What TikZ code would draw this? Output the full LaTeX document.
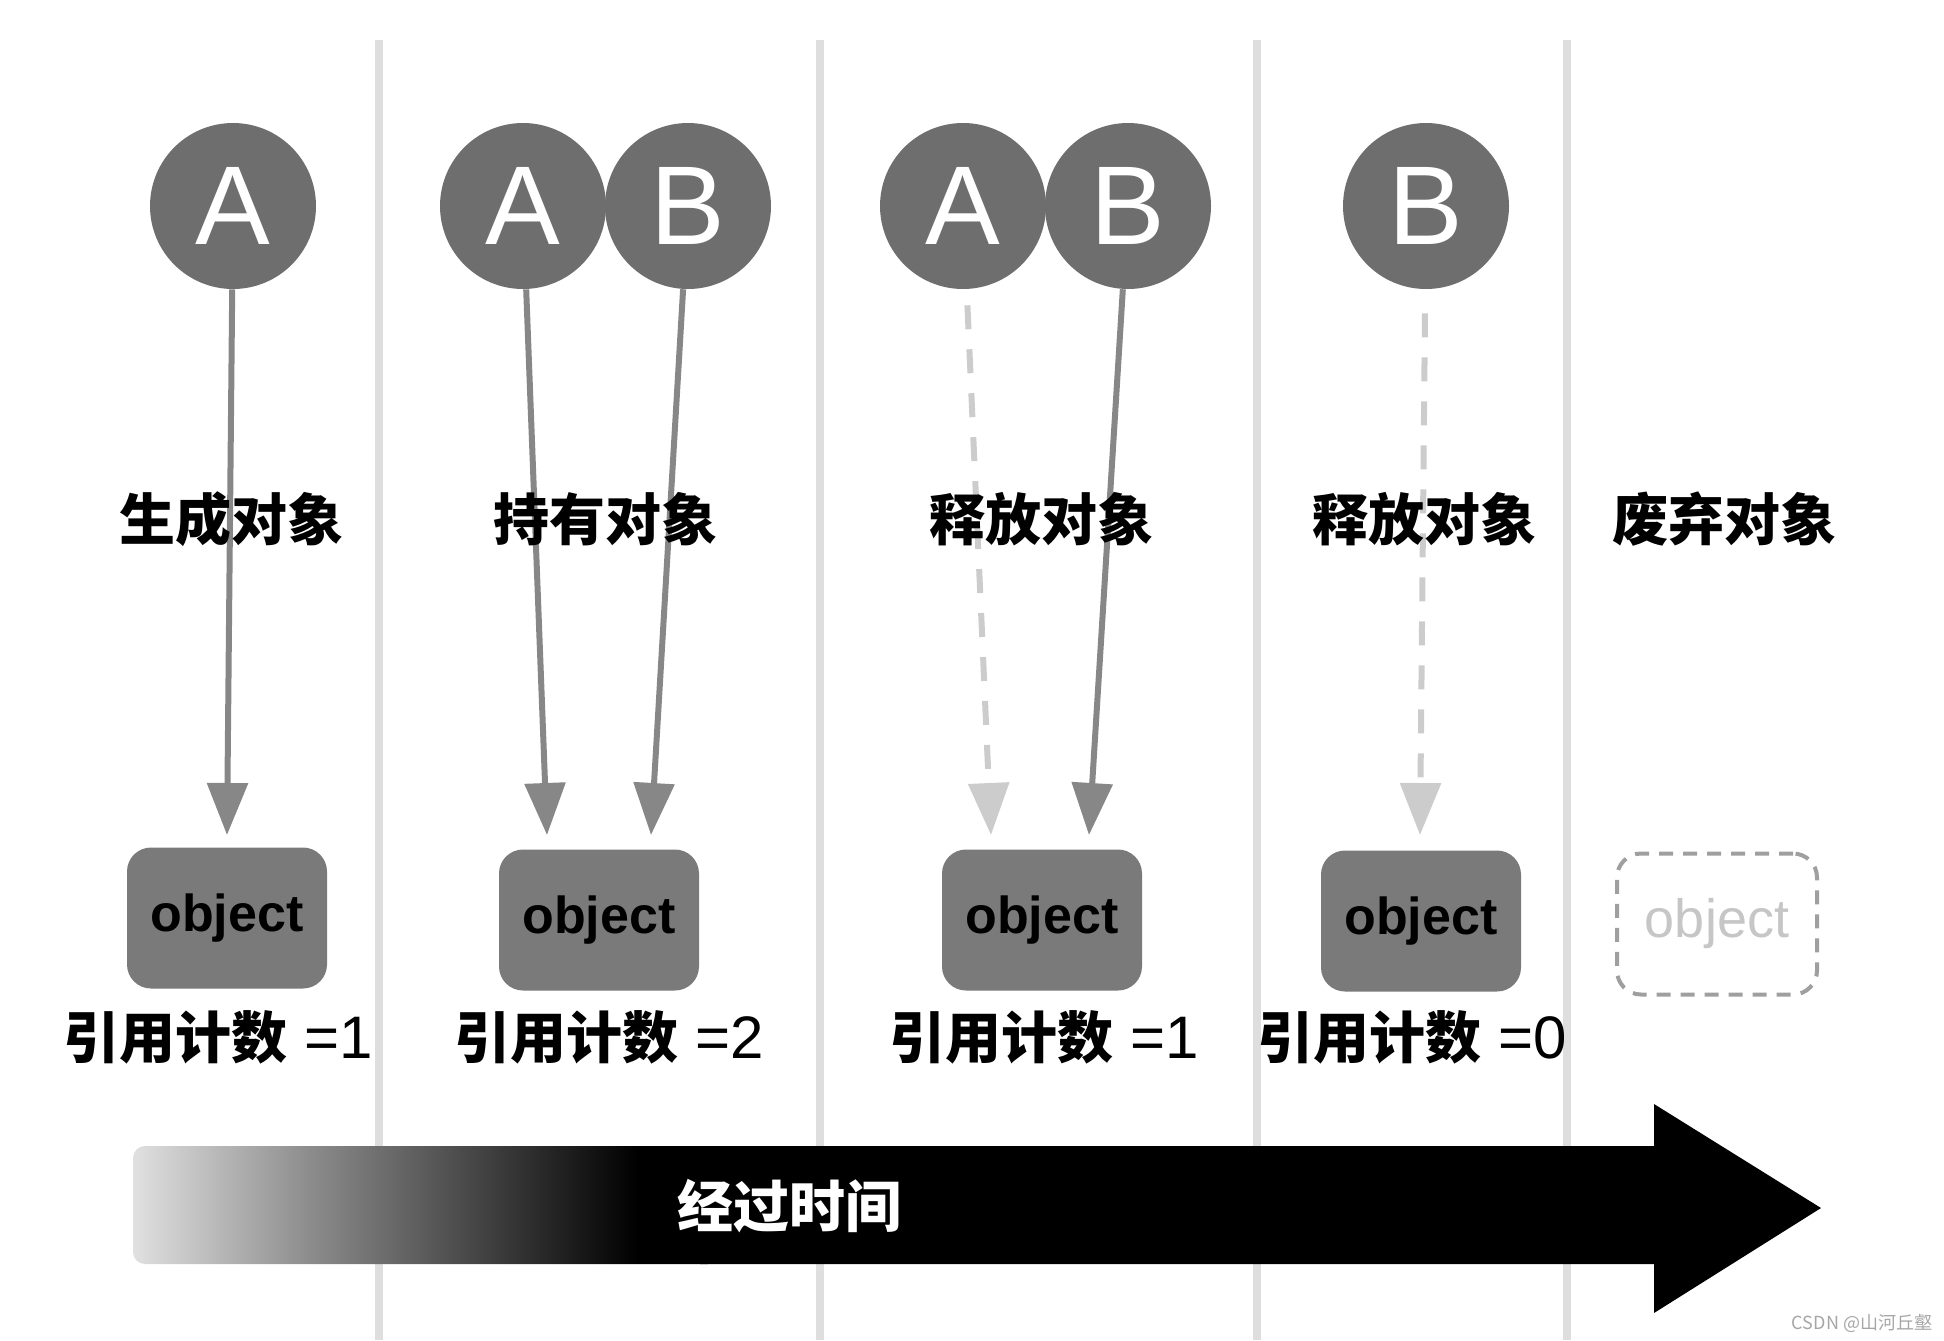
\documentclass[tikz,border=0pt]{standalone}
\usepackage{fontspec}
\setmainfont{Liberation Sans}
\newfontfamily\cjk{Noto Sans CJK SC}
\usetikzlibrary{arrows.meta}
\definecolor{ballgray}{rgb}{0.43, 0.43, 0.43}
\definecolor{boxgray}{rgb}{0.48, 0.48, 0.48}
\definecolor{linkgray}{rgb}{0.53, 0.53, 0.53}
\definecolor{ghostgray}{rgb}{0.80, 0.80, 0.80}
\definecolor{rulegray}{rgb}{0.87, 0.87, 0.87}
\pgfdeclarehorizontalshading{timefade}{100bp}{%
  color(0bp)=(black!12); color(25bp)=(black!12); color(40bp)=(black!45);
  color(68bp)=(black); color(100bp)=(black)}
\tikzset{
  ball/.style={circle, fill=ballgray, minimum size=83pt, inner sep=0pt,
    text=white, font=\fontsize{56}{56}\selectfont},
  objbox/.style={rounded corners=12pt, fill=boxgray, minimum width=100pt,
    minimum height=70.5pt, font=\bfseries\fontsize{26}{26}\selectfont},
  ghostbox/.style={objbox, fill=none, draw=gray!75, line width=2pt,
    dash pattern=on 7pt off 5pt, text=gray!45, font=\fontsize{27}{27}\selectfont},
  caption/.style={font=\cjk\bfseries\fontsize{28}{28}\selectfont},
  link/.style={draw=linkgray, line width=3pt, -{Triangle[length=26pt,width=20pt]}},
  oldlink/.style={link, draw=ghostgray, dash pattern=on 12pt off 10pt},
}

\begin{document}
\begin{tikzpicture}[x=0.5pt,y=-0.5pt]
  \useasboundingbox (0,0) rectangle (1944,1340);

  % column rules
  \foreach \x in {379,820,1257,1567}
  {
    \draw [rulegray, line width=4pt] (\x,40) -- (\x,1340);
  }

  % time arrow
  \shade [shading=timefade, rounded corners=6pt] (133,1146) rectangle (720,1264);
  \fill [black] (700,1146) -- (1654,1146) -- (1654,1104) -- (1821,1208)
    -- (1654,1313) -- (1654,1264) -- (700,1264) -- cycle;
  \node [caption, text=white] (time) at (789,1206) {经过时间};

  % references
  \node [ball] (a1) at (233,206) {A};
  \node [ball] (a2) at (523,206) {A};
  \node [ball] (b2) at (688,206) {B};
  \node [ball] (a3) at (963,206) {A};
  \node [ball] (b3) at (1128,206) {B};
  \node [ball] (b4) at (1426,206) {B};

  % objects
  \node [objbox] (o1) at (227,918) {object};
  \node [objbox] (o2) at (599,920) {object};
  \node [objbox] (o3) at (1042,920) {object};
  \node [objbox] (o4) at (1421,921) {object};
  \node [ghostbox] (o5) at (1717,924) {object};

  \coordinate (t1) at (227,835);
  \coordinate (t2a) at (547,835);
  \coordinate (t2b) at (651,835);
  \coordinate (t3a) at (991,835);
  \coordinate (t3b) at (1089,835);
  \coordinate (t4) at (1420,835);

  \draw [link] (a1) -- (t1);
  \draw [link] (a2) -- (t2a);
  \draw [link] (b2) -- (t2b);
  \draw [oldlink, shorten <=8pt] (a3) -- (t3a);
  \draw [link] (b3) -- (t3b);
  \draw [oldlink, shorten <=12pt] (b4) -- (t4);

  \foreach \x/\name/\txt in {231/c1/生成对象, 605/c2/持有对象, 1041/c3/释放对象, 1424/c4/释放对象, 1724/c5/废弃对象}
  {
    \node [caption] (\name) at (\x,519) {\txt};
  }

  \foreach \x/\name/\n in {218/n1/1, 609/n2/2, 1044/n3/1, 1412/n4/0}
  {
    \node [caption] (\name) at (\x,1037) {引用计数{\rmfamily\mdseries\fontsize{30}{30}\selectfont\ =\n}};
  }

  \node [text=gray!70, font=\cjk\fontsize{9}{9}\selectfont] (mark) at (1862,1323) {CSDN @山河丘壑};
\end{tikzpicture}
\end{document}
